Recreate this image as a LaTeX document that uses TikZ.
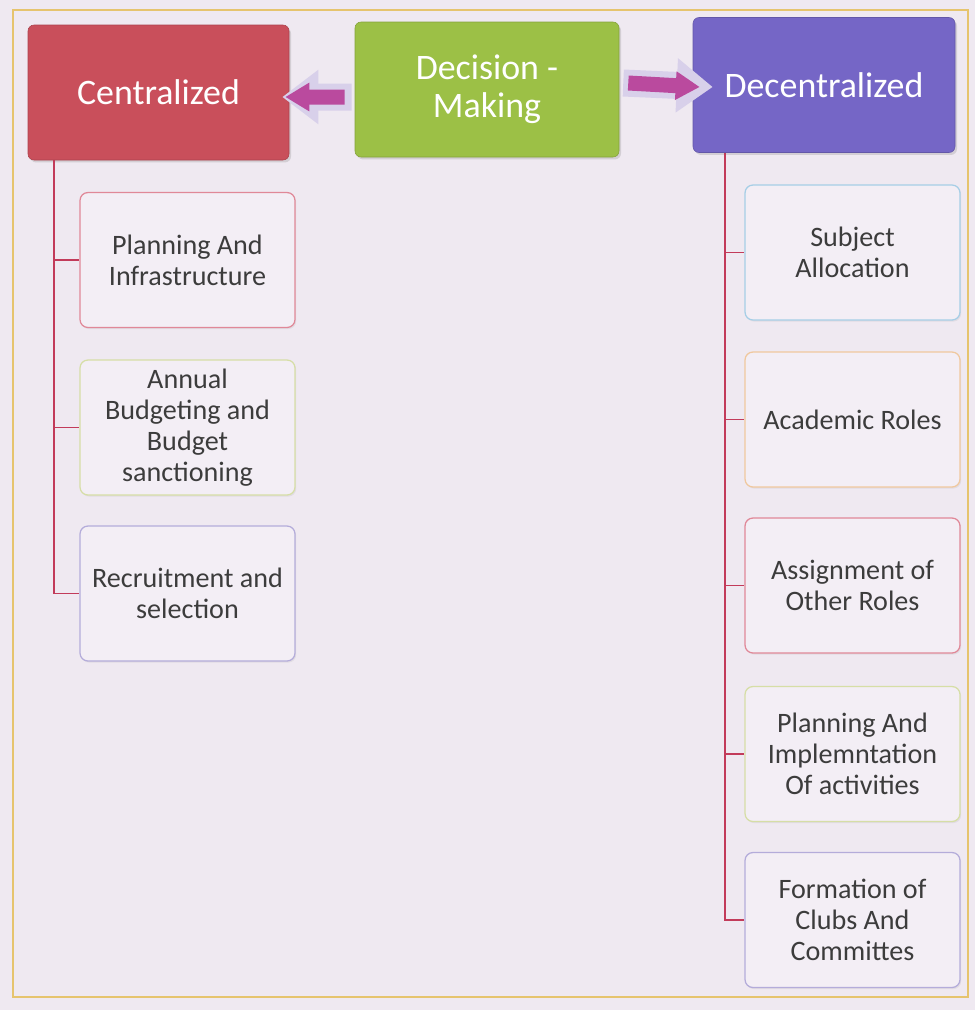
\documentclass[tikz,border=0pt]{standalone}
\usepackage{fontspec}
\setmainfont{Carlito}
\usetikzlibrary{arrows.meta,shadows}

\definecolor{pagebg}{HTML}{EFE9F1}
\definecolor{leaffill}{HTML}{F3EEF5}
\definecolor{leaftext}{HTML}{3C3C3C}
\definecolor{framegold}{HTML}{E6C46E}
\definecolor{trunkred}{HTML}{C23B5A}
\definecolor{cenred}{HTML}{C94F5B}
\definecolor{dmgreen}{HTML}{9CC046}
\definecolor{dcnpurple}{HTML}{7566C6}
\definecolor{arrowglow}{HTML}{D8D0EA}
\definecolor{arrowcore}{HTML}{BA4A9E}
\definecolor{edgepink}{HTML}{E08898}
\definecolor{edgelime}{HTML}{D6DEA6}
\definecolor{edgelilac}{HTML}{B4ACDA}
\definecolor{edgeblue}{HTML}{A6CEE6}
\definecolor{edgeorange}{HTML}{F0C89E}

\begin{document}
\begin{tikzpicture}[
    header/.style={draw=#1!85!black, fill=#1, rounded corners=0.15cm,
        minimum height=3.375cm, text=white, align=center,
        font=\fontsize{25.5}{27}\selectfont,
        drop shadow={shadow xshift=0.05cm, shadow yshift=-0.06cm, opacity=0.25}},
    leaf/.style={draw=#1, line width=0.9pt, fill=leaffill, rounded corners=0.2cm,
        minimum width=5.375cm, minimum height=3.375cm, text=leaftext, align=center,
        font=\fontsize{20}{22}\selectfont,
        drop shadow={shadow xshift=0.03cm, shadow yshift=-0.04cm, opacity=0.12}},
    branch/.style={trunkred, line width=1.4pt},
    glow/.style={arrowglow, line width=0.675cm, -{Triangle[length=0.9cm, width=1.3cm]}},
    core/.style={arrowcore, line width=0.375cm, -{Triangle[length=0.6cm, width=0.675cm]}}
]
\fill[pagebg] (0, 0) rectangle (24.375, -25.25);
\useasboundingbox (0, 0) rectangle (24.375, -25.25);
\draw[framegold, line width=1.5pt]
    (0.325, -0.25) rectangle (24.2, -24.925);

\node[header=cenred, minimum width=6.525cm] (cen) at (3.9625, -2.3125) {Centralized};
\node[header=dmgreen, minimum width=6.6cm] (dm) at (12.175, -2.2375) {Decision -\\Making};
\node[header=dcnpurple, minimum width=6.55cm] (dcn) at (20.6, -2.125) {Decentralized};

\node[leaf=edgepink] (plan) at (4.6875, -6.5) {Planning And\\Infrastructure};
\node[leaf=edgelime] (budget) at (4.6875, -10.6875) {Annual\\Budgeting and\\Budget\\sanctioning};
\node[leaf=edgelilac] (recruit) at (4.6875, -14.8375) {Recruitment and\\selection};

\node[leaf=edgeblue] (subject) at (21.3125, -6.3125) {Subject\\Allocation};
\node[leaf=edgeorange] (academic) at (21.3125, -10.4875) {Academic Roles};
\node[leaf=edgepink] (assign) at (21.3125, -14.6375) {Assignment of\\Other Roles};
\node[leaf=edgelime] (implement) at (21.3125, -18.85) {Planning And\\Implemntation\\Of activities};
\node[leaf=edgelilac] (clubs) at (21.3125, -23.0) {Formation of\\Clubs And\\Committes};

\draw[glow]
    ([xshift=-0.075cm, yshift=-0.1875cm]dm.west) -- ([xshift=-0.175cm, yshift=-0.1125cm]cen.east);
\draw[core]
    ([xshift=-0.25cm, yshift=-0.1875cm]dm.west) -- ([xshift=-0.1cm, yshift=-0.1125cm]cen.east);
\draw[glow]
    ([xshift=0.1cm, yshift=0.1625cm]dm.east) -- ([xshift=0.5cm, yshift=-0.05cm]dcn.west);
\draw[core]
    ([xshift=0.225cm, yshift=0.1625cm]dm.east) -- ([xshift=0.175cm, yshift=-0.05cm]dcn.west);

\coordinate (ltop) at (1.35, -4.0);
\coordinate (rtop) at (18.125, -3.825);
\draw[branch] (ltop) |- (recruit.west);
\draw[branch] (ltop |- plan.west) -- (plan.west);
\draw[branch] (ltop |- budget.west) -- (budget.west);
\draw[branch] (rtop) |- (clubs.west);
\draw[branch] (rtop |- subject.west) -- (subject.west);
\draw[branch] (rtop |- academic.west) -- (academic.west);
\draw[branch] (rtop |- assign.west) -- (assign.west);
\draw[branch] (rtop |- implement.west) -- (implement.west);
\end{tikzpicture}
\end{document}
